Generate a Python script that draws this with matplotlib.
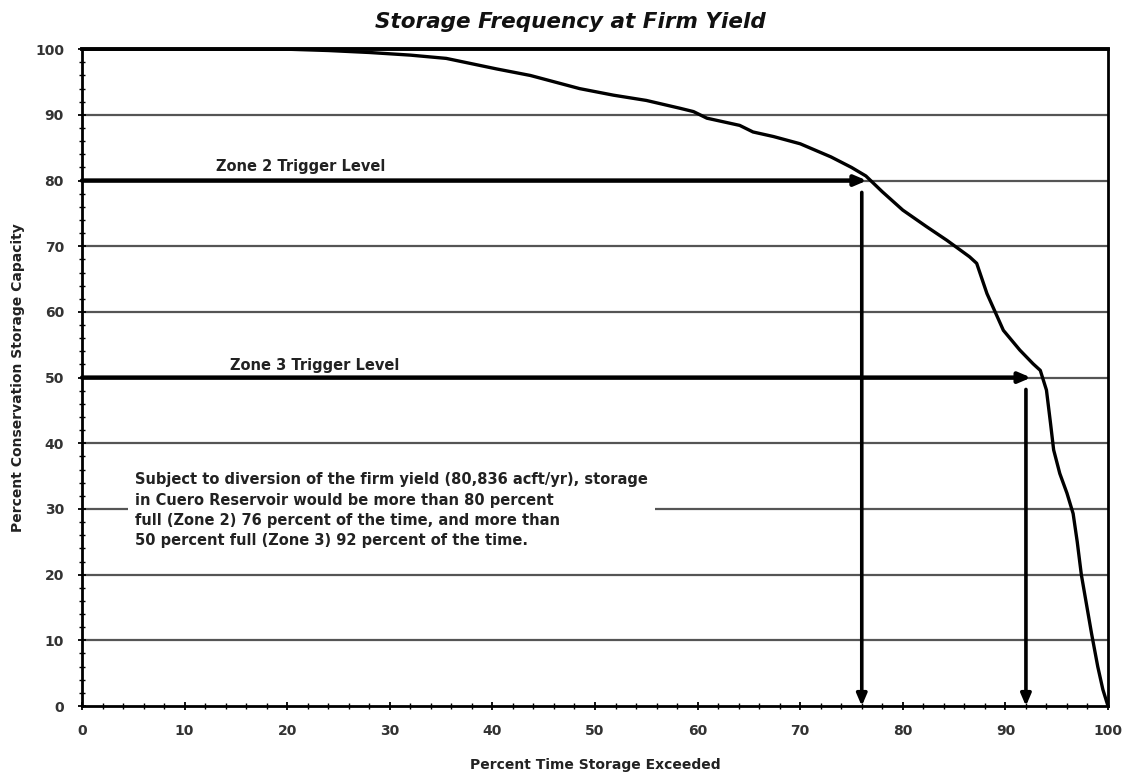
import matplotlib
matplotlib.use("Agg")
import matplotlib.pyplot as plt
from matplotlib.ticker import MultipleLocator

plt.rcParams['font.family'] = ['DejaVu Sans']

# Storage frequency curve (percent time exceeded vs percent capacity)
pct_time = [0, 10, 20, 24, 28, 32, 35.5, 40.4, 43.7, 48.5, 51.8, 55, 58.3, 59.6, 60.9,
            64.1, 65.4, 67.4, 70, 73, 75, 76.4, 78, 80, 82.3, 84.3, 86.5, 87.2, 88.2,
            89.8, 91.4, 92.7, 93.4, 94.0, 94.4, 94.7, 95.3, 96.0, 96.6, 97.0, 97.4,
            97.9, 98.4, 99.0, 99.5, 100]
pct_storage = [100, 100, 100, 99.8, 99.5, 99.1, 98.6, 97.0, 96.0, 94.0, 93.0, 92.2, 91.0,
               90.5, 89.5, 88.4, 87.4, 86.7, 85.6, 83.6, 82.0, 80.7, 78.3, 75.5, 73.0,
               70.9, 68.4, 67.4, 62.8, 57.2, 54.2, 52.1, 51.1, 48.1, 43.0, 39.0, 35.4,
               32.4, 29.3, 25.0, 20.0, 15.5, 11.0, 6.0, 2.5, 0.0]

zone_levels = [80, 50]
zone_times = [76, 92]
zone_labels = ["Zone 2 Trigger Level", "Zone 3 Trigger Level"]
note = ("Subject to diversion of the firm yield (80,836 acft/yr), storage\n"
        "in Cuero Reservoir would be more than 80 percent\n"
        "full (Zone 2) 76 percent of the time, and more than\n"
        "50 percent full (Zone 3) 92 percent of the time.")

fig = plt.figure(figsize=(11.25, 7.81), dpi=100)
ax = fig.add_axes([0.0729, 0.096, 0.912, 0.841])

ax.set_xlim(0, 100)
ax.set_ylim(0, 100)

# grid lines
for yv in range(10, 100, 10):
    ax.axhline(yv, color='#555555', lw=1.6, zorder=1)

ax.plot(pct_time, pct_storage, color='black', lw=2.4, zorder=4)

arrow_kw = dict(arrowstyle='-|>,head_length=0.7,head_width=0.3', color='black', lw=3.2,
                shrinkA=0, shrinkB=0)
# horizontal trigger arrows
ax.annotate('', xy=(zone_times[0] + 0.5, zone_levels[0]), xytext=(0, zone_levels[0]),
            arrowprops=arrow_kw, zorder=5)
ax.annotate('', xy=(zone_times[1] + 0.5, zone_levels[1]), xytext=(0, zone_levels[1]),
            arrowprops=arrow_kw, zorder=5)
# vertical arrows
vkw = dict(arrowstyle='-|>,head_length=0.7,head_width=0.3', color='black',
           lw=2.6, shrinkA=0, shrinkB=0)
ax.annotate('', xy=(zone_times[0], 0), xytext=(zone_times[0], zone_levels[0] - 1.8),
            arrowprops=vkw, zorder=5)
ax.annotate('', xy=(zone_times[1], 0), xytext=(zone_times[1], zone_levels[1] - 1.8),
            arrowprops=vkw, zorder=5)

ax.text(21.3, zone_levels[0] + 1.0, zone_labels[0], ha='center', va='bottom',
        fontsize=10.5, fontweight='bold', color='#222222')
ax.text(22.7, zone_levels[1] + 0.7, zone_labels[1], ha='center', va='bottom',
        fontsize=10.5, fontweight='bold', color='#222222')

ax.text(5.2, 35.6, note, ha='left', va='top', fontsize=10.5, fontweight='bold',
        color='#222222', linespacing=1.45,
        bbox=dict(facecolor='white', edgecolor='none', pad=5), zorder=6)

# ticks
ax.xaxis.set_major_locator(MultipleLocator(10))
ax.xaxis.set_minor_locator(MultipleLocator(2))
ax.yaxis.set_major_locator(MultipleLocator(10))
ax.yaxis.set_minor_locator(MultipleLocator(2))
ax.tick_params(axis='both', which='major', length=6, width=1.3, labelsize=10,
               direction='inout', colors='black')
ax.tick_params(axis='both', which='minor', length=4, width=1.0, direction='inout')
ax.tick_params(axis='x', pad=10)
ax.tick_params(axis='y', pad=10)
for lbl in ax.get_xticklabels() + ax.get_yticklabels():
    lbl.set_fontweight('bold')
    lbl.set_color('#333333')

for side, sp in ax.spines.items():
    sp.set_color('black')
    sp.set_linewidth(2.0)
ax.spines['top'].set_linewidth(2.8)

ax.set_xlabel('Percent Time Storage Exceeded', fontsize=10, fontweight='bold',
              color='#222222', labelpad=14)
ax.set_ylabel('Percent Conservation Storage Capacity', fontsize=10, fontweight='bold',
              color='#222222', labelpad=7)

fig.text(0.507, 0.972, 'Storage Frequency at Firm Yield', ha='center', va='center',
         fontsize=15.5, fontweight='bold', fontstyle='italic', color='#111111')

fig.savefig('out.png', dpi=100)
